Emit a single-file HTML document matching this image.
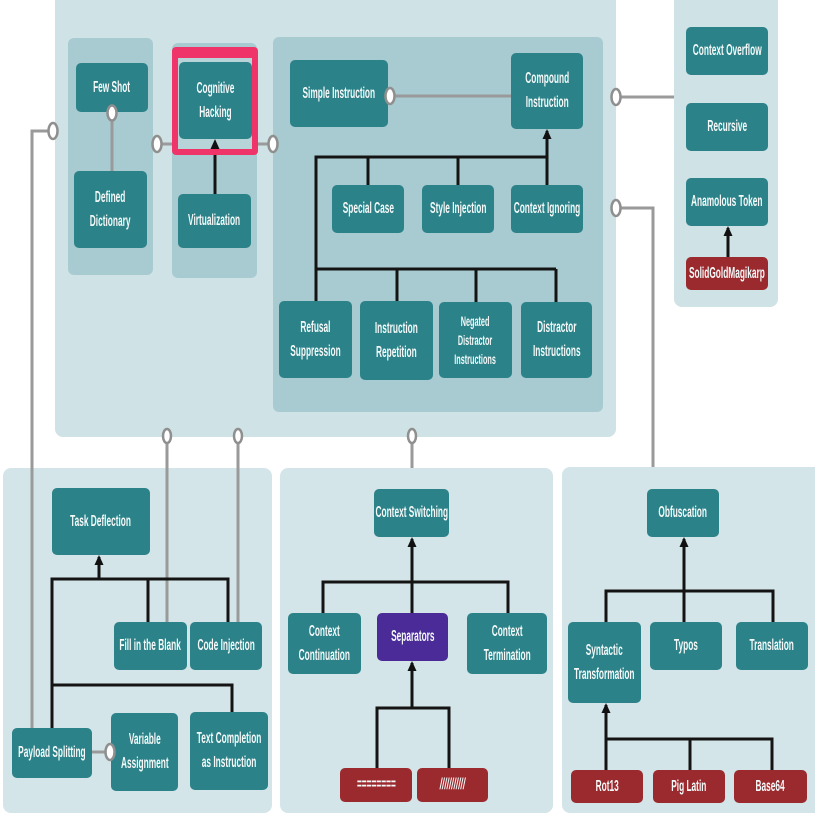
<!DOCTYPE html>
<html>
<head>
<meta charset="utf-8">
<style>
  html,body{margin:0;padding:0;background:#fff;}
  body{width:815px;height:815px;position:relative;overflow:hidden;}
  svg{position:absolute;left:0;top:0;}
  .n{position:absolute;display:flex;align-items:center;justify-content:center;color:#f4f9f9;
     font-family:"Liberation Sans",sans-serif;font-weight:bold;font-size:16px;line-height:24px;}
  .n span{display:block;transform:scaleX(.52);white-space:nowrap;text-align:center;}
  .s{font-size:14px;line-height:19px;}
</style>
</head>
<body>
<svg width="815" height="815" viewBox="0 0 815 815" xmlns="http://www.w3.org/2000/svg">
  <!-- panels -->
  <rect x="55" y="-10" width="561" height="447" rx="8" fill="#cfe2e5"/>
  <rect x="674" y="-10" width="104" height="317" rx="8" fill="#cfe2e5"/>
  <rect x="3" y="468" width="269" height="345" rx="8" fill="#d3e5e8"/>
  <rect x="280" y="468" width="273" height="345" rx="8" fill="#d3e5e8"/>
  <rect x="562" y="467" width="260" height="346" rx="8" fill="#d3e5e8"/>
  <!-- sub panels -->
  <rect x="68" y="38" width="85" height="237" rx="6" fill="#a8cbd1"/>
  <rect x="172" y="43" width="85" height="235" rx="6" fill="#a8cbd1"/>
  <rect x="273" y="37" width="330" height="375" rx="6" fill="#a8cbd1"/>

  <!-- gray connectors -->
  <g stroke="#9a9a9a" stroke-width="3" fill="none">
    <path d="M32,728 V131 H49"/>
    <path d="M112,112 V171"/>
    <path d="M160,144 H172"/>
    <path d="M258,144 H270"/>
    <path d="M390,96 H511"/>
    <path d="M620,97 H674"/>
    <path d="M620,208 H653 V467"/>
    <path d="M167,441 V622"/>
    <path d="M238,441 V622"/>
    <path d="M412,441 V468"/>
    <path d="M92,752 H107"/>
  </g>

  <!-- black connectors -->
  <g stroke="#141414" stroke-width="3" fill="none">
    <path d="M215,194 V141"/>
    <path d="M316,301 V157 H547"/>
    <path d="M547,185 V131"/>
    <path d="M368,157 V185"/>
    <path d="M458,157 V185"/>
    <path d="M316,269 H556"/>
    <path d="M397,269 V301"/>
    <path d="M476,269 V302"/>
    <path d="M556,269 V302"/>
    <path d="M728,257 V228"/>
    <!-- bottom left -->
    <path d="M99,579 V557"/>
    <path d="M52,728 V579 H228 V622"/>
    <path d="M148,579 V622"/>
    <path d="M52,685 H232 V712"/>
    <!-- bottom middle -->
    <path d="M412,613 V539"/>
    <path d="M323,613 V582 H508 V613"/>
    <path d="M412,708 V663"/>
    <path d="M377,768 V708 H449 V768"/>
    <!-- bottom right -->
    <path d="M684,622 V539"/>
    <path d="M606,622 V591 H773 V622"/>
    <path d="M606,770 V705"/>
    <path d="M606,739 H772 V770"/>
    <path d="M690,739 V770"/>
  </g>

  <!-- cognitive hacking frame -->
  <rect x="172" y="47" width="86" height="108" rx="4" fill="#ee3468"/>
  <rect x="178" y="58" width="74" height="91" fill="#b7d4d9"/>

  <!-- nodes -->
  <g fill="#2b8288">
    <rect x="76" y="63" width="72" height="49" rx="5"/>
    <rect x="74" y="171" width="73" height="77" rx="5"/>
    <rect x="179" y="62" width="73" height="77" rx="5"/>
    <rect x="178" y="194" width="73" height="54" rx="5"/>
    <rect x="290" y="60" width="98" height="67" rx="5"/>
    <rect x="511" y="53" width="72" height="76" rx="5"/>
    <rect x="332" y="185" width="72" height="48" rx="5"/>
    <rect x="422" y="185" width="72" height="48" rx="5"/>
    <rect x="511" y="185" width="72" height="48" rx="5"/>
    <rect x="279" y="301" width="73" height="77" rx="5"/>
    <rect x="360" y="301" width="73" height="79" rx="5"/>
    <rect x="439" y="302" width="73" height="76" rx="5"/>
    <rect x="521" y="302" width="71" height="76" rx="5"/>
    <rect x="686" y="27" width="82" height="48" rx="5"/>
    <rect x="686" y="103" width="82" height="48" rx="5"/>
    <rect x="686" y="178" width="82" height="48" rx="5"/>
    <rect x="52" y="488" width="98" height="67" rx="5"/>
    <rect x="114" y="622" width="73" height="48" rx="5"/>
    <rect x="190" y="622" width="72" height="48" rx="5"/>
    <rect x="12" y="728" width="80" height="50" rx="5"/>
    <rect x="111" y="713" width="67" height="78" rx="5"/>
    <rect x="190" y="712" width="78" height="78" rx="5"/>
    <rect x="374" y="489" width="75" height="48" rx="5"/>
    <rect x="288" y="613" width="73" height="61" rx="5"/>
    <rect x="467" y="613" width="80" height="61" rx="5"/>
    <rect x="647" y="489" width="72" height="48" rx="5"/>
    <rect x="568" y="622" width="73" height="81" rx="5"/>
    <rect x="650" y="622" width="72" height="48" rx="5"/>
    <rect x="736" y="622" width="72" height="48" rx="5"/>
  </g>
  <rect x="377" y="613" width="71" height="48" rx="5" fill="#4a2b97"/>
  <g fill="#9b2a2e">
    <rect x="686" y="257" width="82" height="33" rx="5"/>
    <rect x="340" y="768" width="72" height="34" rx="5"/>
    <rect x="417" y="768" width="71" height="34" rx="5"/>
    <rect x="571" y="770" width="72" height="33" rx="5"/>
    <rect x="653" y="770" width="72" height="33" rx="5"/>
    <rect x="734" y="770" width="73" height="33" rx="5"/>
  </g>

  <!-- circles -->
  <g fill="#ffffff" stroke="#8f8f8f" stroke-width="2.5">
    <ellipse cx="53" cy="131" rx="4.5" ry="8"/>
    <ellipse cx="112" cy="113" rx="4.5" ry="7.5"/>
    <ellipse cx="157" cy="144" rx="4.5" ry="8"/>
    <ellipse cx="273" cy="144" rx="4.5" ry="8"/>
    <ellipse cx="390" cy="96" rx="4.5" ry="8"/>
    <ellipse cx="616" cy="97" rx="4.5" ry="8"/>
    <ellipse cx="616" cy="208" rx="4.5" ry="8"/>
    <ellipse cx="167" cy="436" rx="4" ry="7"/>
    <ellipse cx="238" cy="436" rx="4" ry="7"/>
    <ellipse cx="412" cy="436" rx="4" ry="7"/>
    <ellipse cx="110" cy="752" rx="4.5" ry="8"/>
  </g>

  <!-- arrowheads -->
  <g fill="#111">
    <polygon points="215,139 210.5,149 219.5,149"/>
    <polygon points="547,129 542.5,139 551.5,139"/>
    <polygon points="728,226 723.5,236 732.5,236"/>
    <polygon points="99,555 94.5,565 103.5,565"/>
    <polygon points="412,537 407.5,547 416.5,547"/>
    <polygon points="412,661 407.5,671 416.5,671"/>
    <polygon points="684,537 679.5,547 688.5,547"/>
    <polygon points="606,703 601.5,713 610.5,713"/>
  </g>
</svg>

<!-- labels -->
<div class="n" style="left:76px;top:63px;width:72px;height:49px"><span>Few Shot</span></div>
<div class="n" style="left:74px;top:171px;width:73px;height:77px"><span>Defined<br>Dictionary</span></div>
<div class="n" style="left:179px;top:62px;width:73px;height:77px"><span>Cognitive<br>Hacking</span></div>
<div class="n" style="left:178px;top:194px;width:73px;height:54px"><span>Virtualization</span></div>
<div class="n" style="left:290px;top:60px;width:98px;height:67px"><span>Simple Instruction</span></div>
<div class="n" style="left:511px;top:53px;width:72px;height:76px"><span>Compound<br>Instruction</span></div>
<div class="n" style="left:332px;top:185px;width:72px;height:48px"><span>Special Case</span></div>
<div class="n" style="left:422px;top:185px;width:72px;height:48px"><span>Style Injection</span></div>
<div class="n" style="left:511px;top:185px;width:72px;height:48px"><span>Context Ignoring</span></div>
<div class="n" style="left:279px;top:301px;width:73px;height:77px"><span>Refusal<br>Suppression</span></div>
<div class="n" style="left:360px;top:301px;width:73px;height:79px"><span>Instruction<br>Repetition</span></div>
<div class="n s" style="left:439px;top:302px;width:73px;height:76px"><span>Negated<br>Distractor<br>Instructions</span></div>
<div class="n" style="left:521px;top:302px;width:71px;height:76px"><span>Distractor<br>Instructions</span></div>
<div class="n" style="left:686px;top:27px;width:82px;height:48px"><span>Context Overflow</span></div>
<div class="n" style="left:686px;top:103px;width:82px;height:48px"><span>Recursive</span></div>
<div class="n" style="left:686px;top:178px;width:82px;height:48px"><span>Anamolous Token</span></div>
<div class="n" style="left:686px;top:257px;width:82px;height:33px"><span>SolidGoldMagikarp</span></div>
<div class="n" style="left:52px;top:488px;width:98px;height:67px"><span>Task Deflection</span></div>
<div class="n" style="left:114px;top:622px;width:73px;height:48px"><span>Fill in the Blank</span></div>
<div class="n" style="left:190px;top:622px;width:72px;height:48px"><span>Code Injection</span></div>
<div class="n" style="left:12px;top:728px;width:80px;height:50px"><span>Payload Splitting</span></div>
<div class="n" style="left:111px;top:713px;width:67px;height:78px"><span>Variable<br>Assignment</span></div>
<div class="n" style="left:190px;top:712px;width:78px;height:78px"><span>Text Completion<br>as Instruction</span></div>
<div class="n" style="left:374px;top:489px;width:75px;height:48px"><span>Context Switching</span></div>
<div class="n" style="left:288px;top:613px;width:73px;height:61px"><span>Context<br>Continuation</span></div>
<div class="n" style="left:377px;top:613px;width:71px;height:48px"><span>Separators</span></div>
<div class="n" style="left:467px;top:613px;width:80px;height:61px"><span>Context<br>Termination</span></div>
<div class="n" style="left:340px;top:768px;width:72px;height:34px"><span>========</span></div>
<div class="n" style="left:417px;top:768px;width:71px;height:34px"><span style="font-style:italic">///////////</span></div>
<div class="n" style="left:647px;top:489px;width:72px;height:48px"><span>Obfuscation</span></div>
<div class="n" style="left:568px;top:622px;width:73px;height:81px"><span>Syntactic<br>Transformation</span></div>
<div class="n" style="left:650px;top:622px;width:72px;height:48px"><span>Typos</span></div>
<div class="n" style="left:736px;top:622px;width:72px;height:48px"><span>Translation</span></div>
<div class="n" style="left:571px;top:770px;width:72px;height:33px"><span>Rot13</span></div>
<div class="n" style="left:653px;top:770px;width:72px;height:33px"><span>Pig Latin</span></div>
<div class="n" style="left:734px;top:770px;width:73px;height:33px"><span>Base64</span></div>
</body>
</html>
